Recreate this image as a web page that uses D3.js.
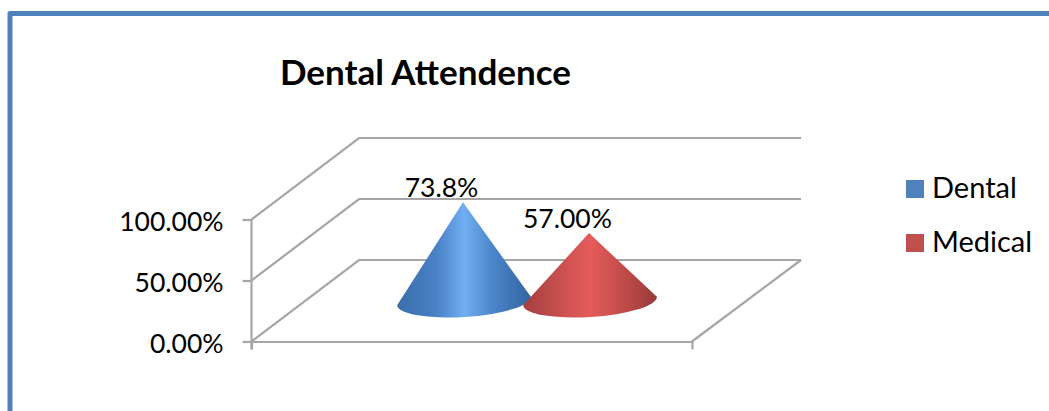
<!DOCTYPE html>
<html>
<head>
<meta charset="utf-8">
<script src="https://cdnjs.cloudflare.com/ajax/libs/d3/7.8.5/d3.min.js"></script>
<style>
  html, body { margin: 0; padding: 0; background: #fff; overflow: hidden; }
  text { font-family: Lato, "Noto Sans", sans-serif; fill: #000; }
</style>
</head>
<body>
<svg id="chart" width="1049" height="411"></svg>
<script>
var series = ["Dental", "Medical"];
var values = [0.738, 0.57];
var valueLabels = ["73.8%", "57.00%"];
var axisTicks = [0, 0.5, 1];
var categories = [""];
var swatchColors = ["#4f81bd", "#c0504d"];
var shades = [
  ["#3a6dab", "#4a82c6", "#72aef2", "#4a84ca", "#33659f"],
  ["#a33f3e", "#cc5150", "#e35c5a", "#c64d4b", "#963a39"]
];

var svg = d3.select("#chart");
var gridColor = "#a6a6a6";

// frame, only top and left edges are inside the picture
svg.append("path")
  .attr("d", "M10,420V13.5H1060")
  .attr("fill", "none")
  .attr("stroke", "#4f81bd")
  .attr("stroke-width", 5)
  .attr("stroke-linejoin", "round");

svg.append("text")
  .attr("x", 425.5).attr("y", 85)
  .attr("text-anchor", "middle")
  .attr("font-size", 35)
  .attr("font-weight", 700)
  .text("Dental Attendence");

// scales
var y = d3.scaleLinear().domain([0, 1]).range([341.5, 219.5]);
var x = d3.scaleBand().domain(categories).range([251.5, 692]);
var apexY = d3.scaleLinear().domain([0, 1]).range([338, 154]);
var coneX = d3.scalePoint().domain(series).range([464, 590]);

// 3d depth of the floor
var dx = 107.5, dy = -81.5, backRight = 801;

var walls = svg.append("g").attr("fill", "none").attr("stroke", gridColor).attr("stroke-width", 2.2);
walls.selectAll("path.grid")
  .data(axisTicks)
  .join("path")
  .attr("class", "grid")
  .attr("d", function(d) {
    var line = d3.path();
    line.moveTo(x.range()[0], y(d));
    line.lineTo(x.range()[0] + dx, y(d) + dy);
    line.lineTo(backRight, y(d) + dy);
    return line.toString();
  });
walls.append("path")
  .attr("d", "M" + x.range()[1] + "," + y(0) + "L" + backRight + "," + (y(0) + dy));

// axes
var yAxis = svg.append("g")
  .attr("transform", "translate(" + x.range()[0] + ",0)")
  .call(d3.axisLeft(y).tickValues(axisTicks).tickFormat(d3.format(".2%")).tickSize(9).tickPadding(19));
var xAxis = svg.append("g")
  .attr("transform", "translate(0," + y(0) + ")")
  .call(d3.axisBottom(x).tickSize(0).tickSizeOuter(8));
[yAxis, xAxis].forEach(function(a) {
  a.selectAll("path, line").attr("stroke", gridColor).attr("stroke-width", 2.2);
});
xAxis.selectAll(".tick").remove();
yAxis.select(".domain").attr("d", "M0," + y(1) + "V" + (y(0) + 8));
yAxis.selectAll("text")
  .attr("font-size", 26.5)
  .attr("dy", "0.4em")
  .attr("font-family", "Lato, 'Noto Sans', sans-serif")
  .attr("fill", "#000");

// cone shading
var defs = svg.append("defs");
series.forEach(function(s, i) {
  var grad = defs.append("linearGradient").attr("id", "cone" + i);
  grad.selectAll("stop")
    .data(shades[i])
    .join("stop")
    .attr("offset", function(d, j) { return [0, 0.3, 0.5, 0.72, 1][j]; })
    .attr("stop-color", function(d) { return d; });
});

var rx = 67, ry = 16, tilt = -3.6, baseY = 301;
var cos = Math.cos(tilt * Math.PI / 180), sin = Math.sin(tilt * Math.PI / 180);

svg.append("g").selectAll("path")
  .data(series)
  .join("path")
  .attr("fill", function(d, i) { return "url(#cone" + i + ")"; })
  .attr("d", function(d, i) {
    var cx = coneX(d);
    return "M" + (cx - 1) + "," + apexY(values[i]) +
      "L" + (cx + rx * cos) + "," + (baseY + rx * sin) +
      "A" + rx + "," + ry + " " + tilt + " 0 1 " + (cx - rx * cos) + "," + (baseY - rx * sin) + "Z";
  });

svg.append("g").selectAll("text")
  .data(series)
  .join("text")
  .attr("x", function(d) { return coneX(d) - 22.5; })
  .attr("y", function(d, i) { return apexY(values[i]) - 5; })
  .attr("text-anchor", "middle")
  .attr("font-size", 26.5)
  .text(function(d, i) { return valueLabels[i]; });

// legend
var legendRow = d3.scalePoint().domain(series).range([180, 234]);
var legend = svg.append("g").selectAll("g")
  .data(series)
  .join("g")
  .attr("transform", function(d) { return "translate(906," + legendRow(d) + ")"; });
legend.append("rect")
  .attr("width", 18).attr("height", 18)
  .attr("fill", function(d, i) { return swatchColors[i]; });
legend.append("text")
  .attr("x", 26).attr("y", 18)
  .attr("font-size", 29)
  .text(function(d) { return d; });
</script>
</body>
</html>
